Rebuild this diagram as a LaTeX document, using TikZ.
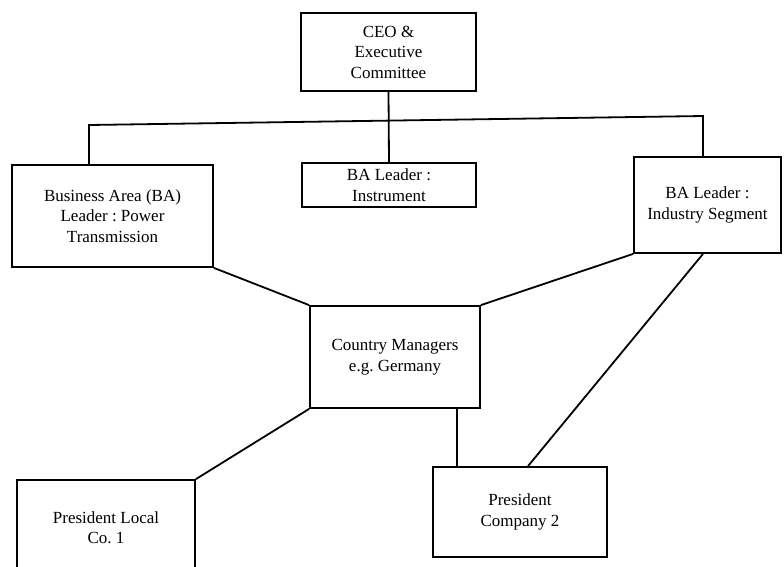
\documentclass[tikz,border=0pt]{standalone}
\usepackage{fontspec}
\setmainfont{Liberation Serif}
\frenchspacing
\begin{document}
\begin{tikzpicture}[x=1pt,y=-1pt,
  unit/.style={draw, line width=1.8pt, align=center, inner sep=2pt,
    font=\fontsize{17}{20.5}\selectfont},
  link/.style={line width=1.8pt}]
\useasboundingbox (0,0) rectangle (784,566);
\clip (0,0) rectangle (784,566);
% units
\node[unit, minimum width=175pt, minimum height=78pt] (ceo) at (388.5,52) {CEO \&\\Executive\\Committee};
\node[unit, minimum width=201pt, minimum height=102pt] (bapt) at (112.5,216) {Business Area (BA)\\Leader : Power\\Transmission};
\node[unit, minimum width=174pt, minimum height=44pt] (bainst) at (389,185) {BA Leader :\\Instrument};
\node[unit, minimum width=147pt, minimum height=96pt] (bais) at (707.5,205) {BA Leader :\\Industry Segment};
\node[unit, minimum width=170pt, minimum height=102pt] (cm) at (395,357) {Country Managers\\e.g. Germany};
\node[unit, minimum width=178pt, minimum height=95pt] (loc) at (106,527.5) {President Local\\Co. 1};
\node[unit, minimum width=174pt, minimum height=90pt] (co2) at (520,512) {President\\Company 2};
% reporting lines
\coordinate (busL) at (89,125);
\coordinate (busR) at (703,116);
\coordinate (cmDrop) at (457,0);
\coordinate (isDrop) at (528,0);
\coordinate (isFoot) at (703,0);
\draw[link] (ceo.south) -- (bainst.north);
\draw[link] (bapt.north -| busL) -- (busL) -- (busR) -- (bais.north -| busR);
\draw[link] (bapt.south east) -- (cm.north west);
\draw[link] (bais.south west) -- (cm.north east);
\draw[link] (cm.south west) -- (loc.north east);
\draw[link] (cm.south -| cmDrop) -- (co2.north -| cmDrop);
\draw[link] (co2.north -| isDrop) -- (bais.south -| isFoot);
\end{tikzpicture}
\end{document}
